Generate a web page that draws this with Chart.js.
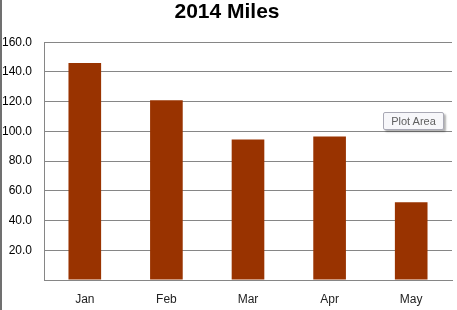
<!DOCTYPE html>
<html>
<head>
<meta charset="utf-8">
<script src="https://cdn.jsdelivr.net/npm/chart.js@4"></script>
<style>
    body { margin: 0; background: #fff; }
    #wrap { position: relative; width: 457px; height: 310px; }
    #edge { position: absolute; left: 0; top: 0; width: 2px; height: 310px; background: #707070; }
    #tip {
        position: absolute; left: 383px; top: 112px; width: 59px; height: 16px;
        border: 1px solid #a9a9b5; border-radius: 2px; background: #f7f7fa;
        box-shadow: 2px 2px 2px rgba(0,0,0,0.3);
        font: 11px "Liberation Sans", sans-serif; color: #606060;
        text-align: center; line-height: 16px;
    }
</style>
</head>
<body>
<div id="wrap">
    <canvas id="chart" width="457" height="310"></canvas>
    <div id="edge"></div>
    <div id="tip">Plot Area</div>
</div>
<script>
// ===============================
// DATA
// ===============================

const months = ["Jan", "Feb", "Mar", "Apr", "May"];
const miles = [146, 121, 94.6, 96.6, 52.3];
const yTicks = [0, 20, 40, 60, 80, 100, 120, 140, 160];

// ===============================
// CHART
// ===============================

const gridGray = "#868686";

new Chart(document.getElementById("chart"), {
    type: "bar",
    data: {
        labels: months,
        datasets: [{
            label: "Miles",
            data: miles,
            backgroundColor: "#993300",
            barPercentage: 0.4,
            categoryPercentage: 1
        }]
    },
    options: {
        responsive: false,
        animation: false,
        layout: {
            padding: { left: 2, right: 5, top: 0, bottom: 0 }
        },
        plugins: {
            legend: { display: false },
            tooltip: { enabled: false },
            title: {
                display: true,
                text: "2014 Miles",
                color: "#000",
                font: { family: "Liberation Sans", size: 21, weight: "bold" },
                padding: { top: 0, bottom: 17 }
            }
        },
        scales: {
            x: {
                grid: { display: false, drawTicks: false },
                border: { display: true, color: gridGray },
                ticks: {
                    color: "#222",
                    padding: 12,
                    font: { family: "Liberation Sans", size: 12 }
                },
                afterFit: s => { s.height = 30; }
            },
            y: {
                min: yTicks[0],
                max: yTicks[yTicks.length - 1],
                afterBuildTicks: s => { s.ticks = yTicks.map(v => ({ value: v })); },
                grid: { color: gridGray, drawTicks: false },
                border: { display: true, color: gridGray },
                ticks: {
                    color: "#000",
                    padding: 12,
                    font: { family: "Liberation Sans", size: 12 },
                    callback: v => v === 0 ? "" : v.toFixed(1)
                },
                afterFit: s => { s.width = 42; }
            }
        }
    }
});
</script>
</body>
</html>
